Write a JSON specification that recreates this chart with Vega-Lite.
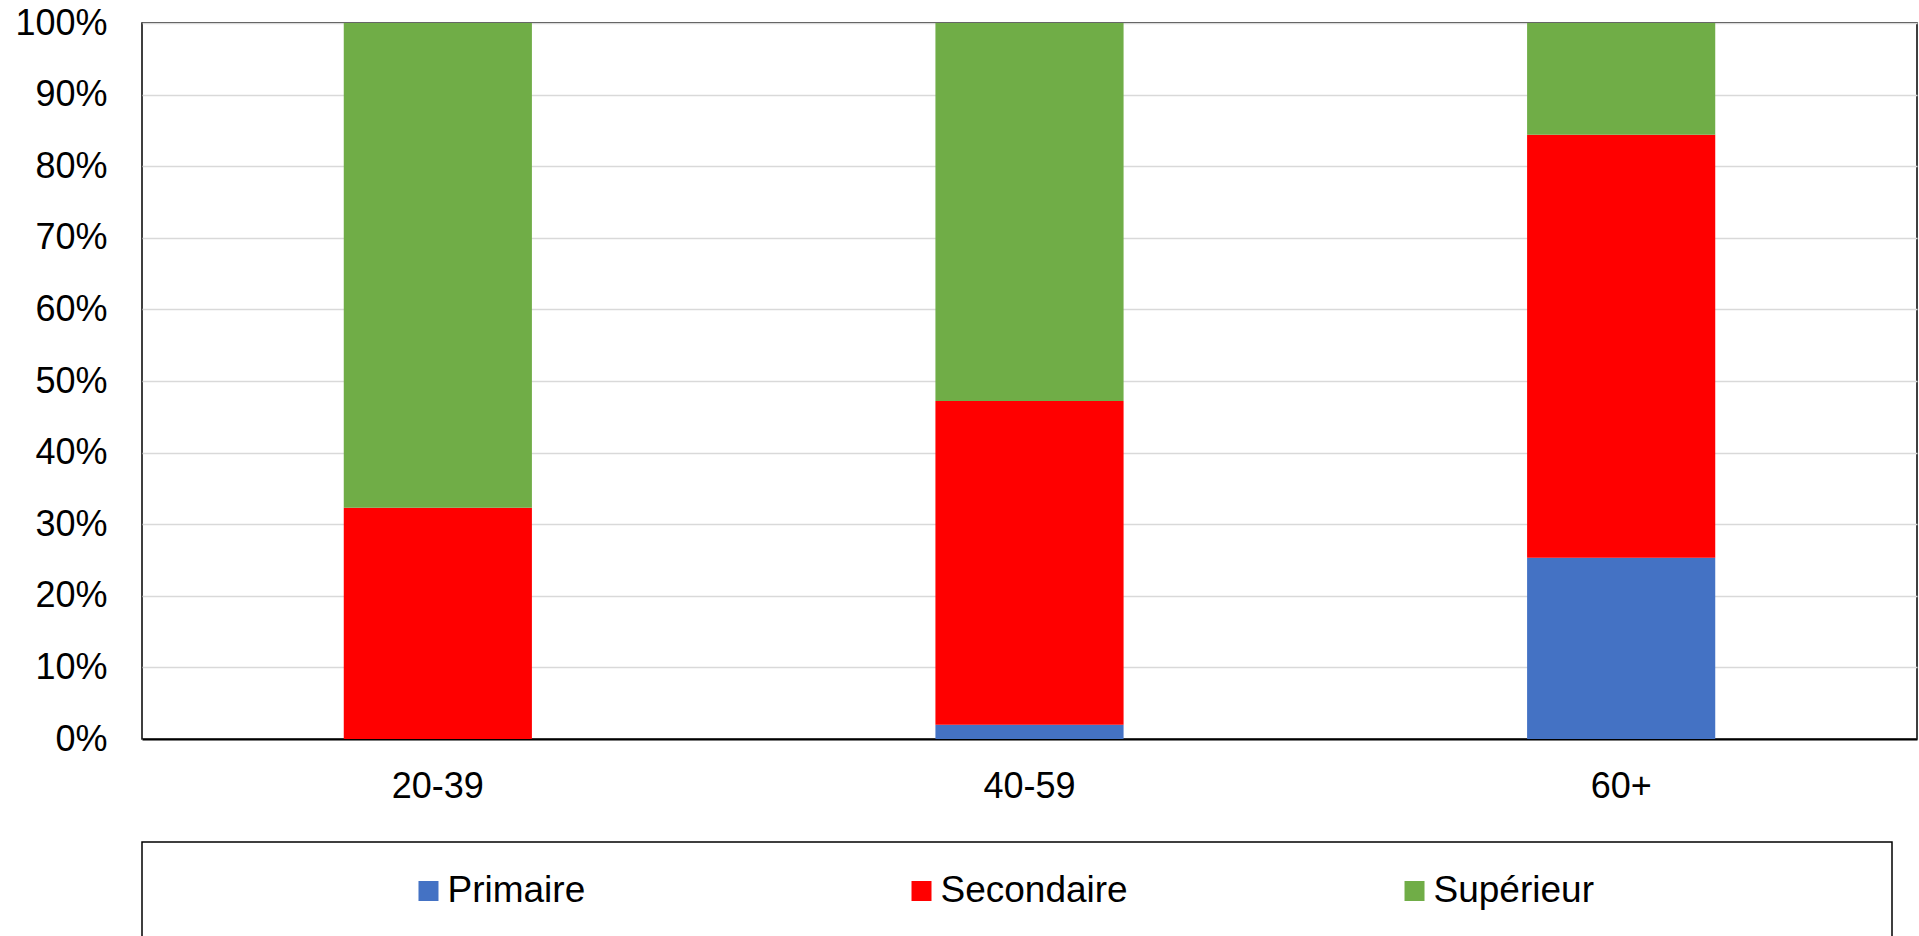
{
  "$schema": "https://vega.github.io/schema/vega-lite/v6.json",
  "padding": {"left": 14, "top": 4, "right": 0, "bottom": 0},
  "background": "white",
  "bounds": "flush",
  "spacing": 103,
  "datasets": {
    "parts": [
      {"age": "20-39", "niveau": "Primaire", "part": 0.0},
      {"age": "20-39", "niveau": "Secondaire", "part": 0.323},
      {"age": "20-39", "niveau": "Supérieur", "part": 0.677},
      {"age": "40-59", "niveau": "Primaire", "part": 0.02},
      {"age": "40-59", "niveau": "Secondaire", "part": 0.452},
      {"age": "40-59", "niveau": "Supérieur", "part": 0.528},
      {"age": "60+", "niveau": "Primaire", "part": 0.253},
      {"age": "60+", "niveau": "Secondaire", "part": 0.591},
      {"age": "60+", "niveau": "Supérieur", "part": 0.156}
    ],
    "niveaux": [
      {"niveau": "Primaire"},
      {"niveau": "Secondaire"},
      {"niveau": "Supérieur"}
    ]
  },
  "config": {
    "font": "Liberation Sans",
    "view": {"stroke": "#000000", "strokeWidth": 1.5}
  },
  "resolve": {"scale": {"x": "independent"}, "axis": {"x": "independent"}},
  "vconcat": [
    {
      "width": 1775,
      "height": 716,
      "data": {"name": "parts"},
      "mark": {"type": "bar"},
      "encoding": {
        "x": {
          "field": "age", "type": "nominal", "sort": ["20-39", "40-59", "60+"],
          "scale": {"paddingInner": 0.682, "paddingOuter": 0.341},
          "axis": {"title": null, "labelAngle": 0, "labelFontSize": 36, "labelColor": "#000000", "labelPadding": 30, "ticks": false, "tickSize": 0, "domainColor": "#000000", "domainWidth": 2, "grid": false}
        },
        "y": {
          "field": "part", "type": "quantitative", "stack": "zero",
          "scale": {"domain": [0, 1], "nice": false},
          "axis": {"title": null, "format": ".0%", "values": [0, 0.1, 0.2, 0.3, 0.4, 0.5, 0.6, 0.7, 0.8, 0.9, 1], "labelFontSize": 36, "labelColor": "#000000", "labelPadding": 35, "ticks": false, "tickSize": 0, "domain": false, "gridColor": "#d9d9d9", "gridWidth": 1.5}
        },
        "color": {
          "field": "niveau", "type": "nominal",
          "scale": {"domain": ["Primaire", "Secondaire", "Supérieur"], "range": ["#4472C4", "#FF0000", "#70AD47"]},
          "legend": null
        },
        "order": {"field": "niveau", "sort": "ascending"}
      }
    },
    {
      "width": 1750,
      "height": 98,
      "data": {"name": "niveaux"},
      "encoding": {
        "x": {
          "field": "niveau", "type": "nominal",
          "scale": {"type": "point", "padding": 0.7748, "align": 0.375, "domain": ["Primaire", "Secondaire", "Supérieur"]},
          "axis": null
        }
      },
      "layer": [
        {
          "mark": {"type": "point", "shape": "square", "filled": true, "size": 400, "opacity": 1},
          "encoding": {"color": {"field": "niveau", "type": "nominal", "legend": null}}
        },
        {
          "mark": {"type": "text", "align": "left", "baseline": "middle", "dx": 19, "fontSize": 37, "color": "#000000"},
          "encoding": {"text": {"field": "niveau", "type": "nominal"}}
        }
      ]
    }
  ]
}
